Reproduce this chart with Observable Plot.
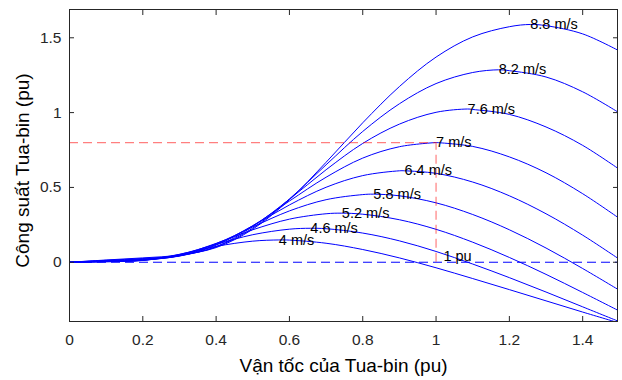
<!DOCTYPE html>
<html><head><meta charset="utf-8">
<script src="https://cdn.jsdelivr.net/npm/d3@7"></script>
<script src="https://cdn.jsdelivr.net/npm/@observablehq/plot@0.6"></script>
<style>html,body{margin:0;padding:0;background:#fff} svg{display:block}</style>
</head><body><div id="chart"></div>
<script>
// Wind speeds (curve names)
const windSpeeds = ["4 m/s", "4.6 m/s", "5.2 m/s", "5.8 m/s", "6.4 m/s", "7 m/s", "7.6 m/s", "8.2 m/s", "8.8 m/s"];
// Turbine speed (pu) sample points
const rotorSpeed = [0, 0.1, 0.2, 0.3, 0.4, 0.5, 0.6, 0.7, 0.8, 0.9, 1.0, 1.1, 1.2, 1.3, 1.4, 1.5];
// Turbine power (pu) read per curve
const p40 = [0, 0.003, 0.013, 0.053, 0.106, 0.141, 0.148, 0.127, 0.085, 0.029, -0.037, -0.109, -0.183, -0.258, -0.333, -0.406];
const p46 = [0, 0.004, 0.012, 0.052, 0.120, 0.184, 0.221, 0.224, 0.195, 0.143, 0.072, -0.012, -0.103, -0.199, -0.298, -0.397];
const p52 = [0, 0.005, 0.013, 0.048, 0.126, 0.217, 0.288, 0.324, 0.321, 0.284, 0.220, 0.134, 0.032, -0.081, -0.202, -0.326];
const p58 = [0, 0.006, 0.014, 0.044, 0.124, 0.236, 0.343, 0.418, 0.452, 0.444, 0.397, 0.319, 0.217, 0.095, -0.042, -0.187];
const p64 = [0, 0.008, 0.016, 0.043, 0.118, 0.244, 0.383, 0.501, 0.579, 0.611, 0.594, 0.536, 0.444, 0.324, 0.181, 0.020];
const p70 = [0, 0.009, 0.019, 0.041, 0.114, 0.244, 0.409, 0.568, 0.696, 0.772, 0.800, 0.774, 0.704, 0.598, 0.458, 0.293];
const p76 = [0, 0.011, 0.022, 0.043, 0.104, 0.239, 0.421, 0.618, 0.794, 0.923, 1.002, 1.021, 0.988, 0.904, 0.781, 0.621];
const p82 = [0, 0.013, 0.025, 0.045, 0.103, 0.228, 0.423, 0.651, 0.874, 1.059, 1.194, 1.268, 1.280, 1.238, 1.139, 0.998];
const p88 = [0, 0.015, 0.029, 0.048, 0.098, 0.221, 0.418, 0.668, 0.932, 1.174, 1.371, 1.506, 1.574, 1.581, 1.526, 1.412];
// Maximum power point of each curve (where the label sits)
const peakSpeed = [0.571, 0.657, 0.743, 0.829, 0.914, 1.0, 1.086, 1.171, 1.257];
const peakPower = [0.149, 0.227, 0.328, 0.455, 0.611, 0.8, 1.024, 1.286, 1.589];
// Reference (rated) point
const refSpeed = 1;
const refPower = 0.8;
const refLabel = "1 pu";
const refLabelPos = [1.02, 0.04];
// Axis ticks and titles
const xTicks = [0, 0.2, 0.4, 0.6, 0.8, 1, 1.2, 1.4];
const yTicks = [0, 0.5, 1, 1.5];
const xTitle = "Vận tốc của Tua-bin (pu)";
const yTitle = "Công suất Tua-bin (pu)";

const series = [p40, p46, p52, p58, p64, p70, p76, p82, p88];
const rows = [];
series.forEach((vals, i) => {
  const pts = rotorSpeed.map((x, j) => ({x, y: vals[j], s: windSpeeds[i]}));
  pts.push({x: peakSpeed[i], y: peakPower[i], s: windSpeeds[i]});
  pts.sort((a, b) => a.x - b.x);
  rows.push(...pts);
});
const labels = windSpeeds.map((s, i) => ({x: peakSpeed[i], y: peakPower[i], s}));

const axisColor = "#262626";
const chart = Plot.plot({
  width: 622, height: 380,
  marginLeft: 69, marginRight: 5, marginTop: 9, marginBottom: 59,
  style: {fontFamily: "'Liberation Sans', Arial, Helvetica, sans-serif", background: "#fff", color: axisColor},
  x: {domain: [0, 1.495]},
  y: {domain: [-0.396, 1.689]},
  marks: [
    Plot.line(rows, {x: "x", y: "y", z: "s", stroke: "#0000ff", strokeWidth: 1, curve: "catmull-rom", clip: true}),
    Plot.ruleY([0], {stroke: "#0000ff", strokeWidth: 1, strokeDasharray: "9,5"}),
    Plot.ruleY([refPower], {x1: 0, x2: refSpeed, stroke: "#ff0000", strokeOpacity: 0.5, strokeWidth: 1.2, strokeDasharray: "9,5"}),
    Plot.ruleX([refSpeed], {y1: 0, y2: refPower, stroke: "#ff0000", strokeOpacity: 0.5, strokeWidth: 1.2, strokeDasharray: "9,5"}),
    Plot.text(labels, {x: "x", y: "y", text: "s", textAnchor: "start", lineAnchor: "middle", fontSize: 14.5, fill: "#000"}),
    Plot.text([refLabel], {x: refLabelPos[0], y: refLabelPos[1], text: d => d, textAnchor: "start", lineAnchor: "middle", fontSize: 14.5, fill: "#000"}),
    Plot.frame({stroke: axisColor}),
    Plot.axisX(xTicks, {anchor: "bottom", tickSize: 0, tickPadding: 12, fontSize: 15.5, fill: axisColor, label: null, tickFormat: d => String(d)}),
    Plot.axisX(xTicks, {anchor: "bottom", tickSize: -5, fill: "none", stroke: axisColor, label: null}),
    Plot.axisX(xTicks, {anchor: "top", tickSize: -5, fill: "none", stroke: axisColor, label: null}),
    Plot.axisY(yTicks, {anchor: "left", tickSize: 0, tickPadding: 8, fontSize: 15.5, fill: axisColor, label: null, tickFormat: d => String(d)}),
    Plot.axisY(yTicks, {anchor: "left", tickSize: -5, fill: "none", stroke: axisColor, label: null}),
    Plot.axisY(yTicks, {anchor: "right", tickSize: -5, fill: "none", stroke: axisColor, label: null}),
    Plot.text([xTitle], {frameAnchor: "bottom", dy: 44, text: d => d, fontSize: 19, fill: "#000", lineAnchor: "middle", textAnchor: "middle"}),
    Plot.text([yTitle], {frameAnchor: "left", dx: -47, dy: 5, rotate: -90, text: d => d, fontSize: 19, fill: "#000", lineAnchor: "middle", textAnchor: "middle"})
  ]
});
document.getElementById("chart").appendChild(chart);
</script>
</body></html>
